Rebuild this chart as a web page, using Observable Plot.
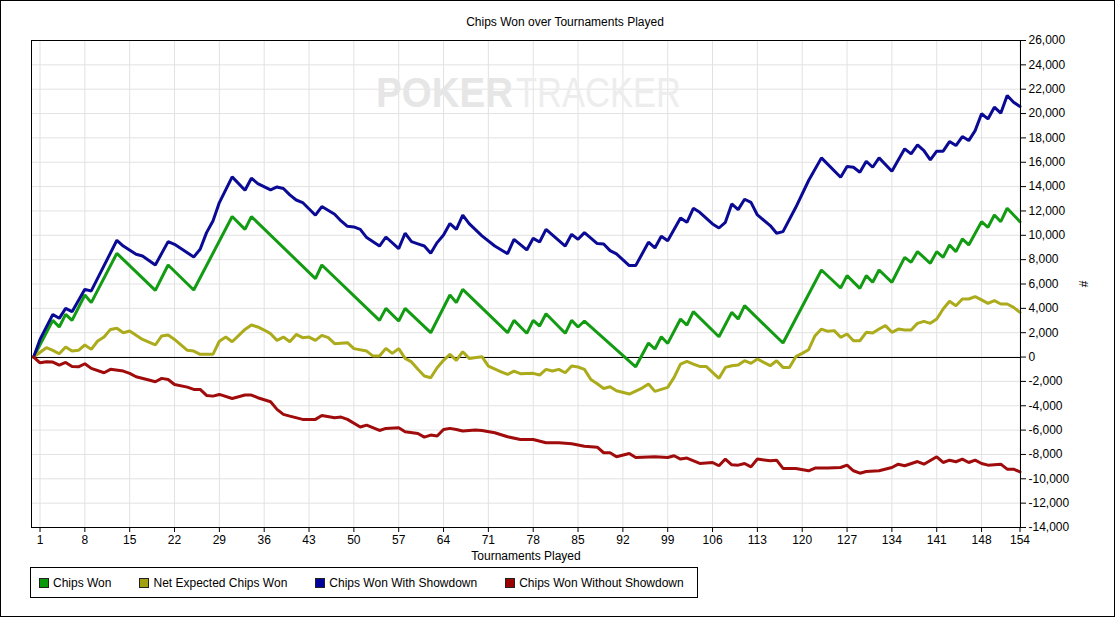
<!DOCTYPE html>
<html><head><meta charset="utf-8">
<script src="https://cdn.jsdelivr.net/npm/d3@7"></script>
<script src="https://cdn.jsdelivr.net/npm/@observablehq/plot@0.6"></script>
<style>
body{margin:0;background:#fff;}
#wrap{position:relative;width:1115px;height:617px;overflow:hidden;font-family:"Liberation Sans",Arial,sans-serif;font-size:12px;color:#000;background:#fff;}
#border{position:absolute;left:0;top:0;width:1115px;height:617px;border:1px solid #000;box-sizing:border-box;pointer-events:none;}
#title{position:absolute;top:15px;left:565px;transform:translateX(-50%);white-space:nowrap;}
#chart{position:absolute;left:0;top:0;}
#legend{position:absolute;left:30px;top:567px;width:668px;height:31px;border:1px solid #000;box-sizing:border-box;display:flex;align-items:center;padding-left:8px;}
.item{display:flex;align-items:center;margin-right:28px;white-space:nowrap;}
.sw{width:8px;height:8px;border:1px solid #222;margin-right:4px;}
</style></head>
<body><div id="wrap"><div id="chart"></div><div id="title"></div><div id="legend"></div><div id="border"></div></div>
<script>
const titleText = "Chips Won over Tournaments Played";
const xLabel = "Tournaments Played";
const yLabel = "#";
const seriesNames = ["Chips Won", "Net Expected Chips Won", "Chips Won With Showdown", "Chips Won Without Showdown"];
const seriesColors = ["#139b13", "#abab1c", "#0a0a95", "#a00b0b"];
const legendColors = ["#0a990a", "#a0a010", "#00009a", "#9a0000"];

// [tournament, chips]
const chipsWon = [[0,0],[3,3010],[4,2470],[5,3510],[6,3010],[8,5100],[9,4470],[13,8520],[19,5480],[21,7560],[25,5510],[31,11540],[33,10490],[34,11540],[44,6440],[45,7560],[54,3010],[55,4000],[57,2960],[58,4000],[62,2000],[65,5100],[66,4470],[67,5560],[74,2000],[75,3010],[77,1950],[78,3010],[79,2550],[80,3560],[83,1950],[84,3010],[85,2470],[86,2960],[94,-800],[96,1150],[97,660],[98,1670],[99,1120],[101,3120],[102,2630],[103,3730],[107,1670],[109,3670],[110,3120],[111,4220],[117,1150],[123,7150],[126,5670],[127,6690],[129,5640],[130,6690],[131,6140],[132,7150],[134,6140],[136,8190],[137,7780],[138,8660],[140,7700],[141,8660],[142,8190],[143,9210],[144,8660],[145,9700],[146,9210],[148,11120],[149,10660],[150,11670],[151,11120],[152,12220],[154,11120]];

const netExpected = [[0,0],[2,770],[3,550],[4,270],[5,820],[6,490],[7,550],[8,990],[9,630],[10,1320],[11,1640],[12,2270],[13,2360],[14,2000],[15,2140],[17,1450],[19,990],[20,1730],[21,1810],[22,1450],[24,550],[25,490],[26,220],[28,220],[29,1300],[30,1640],[31,1260],[33,2270],[34,2630],[35,2470],[36,2220],[37,1920],[38,1370],[39,1640],[40,1260],[41,1860],[42,1590],[43,1640],[44,1370],[45,1780],[46,1590],[47,1100],[49,1180],[50,690],[52,490],[53,80],[54,80],[55,710],[56,300],[57,690],[58,-110],[59,-400],[60,-1000],[61,-1560],[62,-1700],[63,-880],[64,-270],[65,220],[66,-270],[67,440],[68,-110],[70,30],[71,-740],[73,-1210],[74,-1430],[75,-1150],[76,-1370],[78,-1340],[79,-1480],[80,-1010],[81,-1150],[82,-1010],[83,-1290],[84,-740],[85,-820],[86,-1010],[87,-1840],[88,-2190],[89,-2580],[90,-2440],[91,-2770],[93,-3040],[95,-2550],[96,-2220],[97,-2820],[99,-2490],[100,-1670],[101,-580],[102,-360],[103,-580],[104,-770],[105,-770],[106,-1260],[107,-1750],[108,-850],[109,-710],[110,-660],[111,-300],[112,-520],[113,-160],[114,-440],[115,-710],[116,-300],[117,-850],[118,-850],[119,30],[120,300],[121,600],[122,1750],[123,2300],[124,2110],[125,2170],[126,1620],[127,1890],[128,1340],[129,1340],[130,2030],[131,1970],[132,2300],[133,2580],[134,2030],[135,2300],[136,2220],[137,2220],[138,2770],[139,2930],[140,2770],[141,3120],[142,3950],[143,4580],[144,4220],[145,4770],[146,4770],[147,4960],[148,4690],[149,4410],[150,4630],[151,4360],[152,4360],[153,4080],[154,3670]];

const withShowdown = [[0,0],[1,1450],[3,3500],[4,3180],[5,4000],[6,3730],[8,5560],[9,5430],[13,9590],[14,9120],[16,8440],[17,8300],[19,7560],[21,9480],[22,9260],[25,8220],[26,8850],[27,10220],[28,11180],[29,12690],[31,14800],[33,13700],[34,14690],[35,14250],[37,13730],[38,13970],[39,13840],[40,13320],[41,12900],[42,12690],[44,11650],[45,12360],[47,11730],[48,11180],[49,10740],[50,10690],[51,10490],[52,9810],[54,9120],[55,9860],[57,8900],[58,10170],[59,9480],[60,9300],[61,9120],[62,8520],[63,9400],[64,10030],[65,10960],[66,10490],[67,11650],[68,10960],[70,9950],[72,9120],[74,8490],[75,9670],[77,8800],[78,9750],[79,9450],[80,10490],[83,9120],[84,10080],[85,9670],[86,10220],[88,9320],[89,9290],[90,8740],[91,8470],[93,7510],[94,7510],[96,9430],[97,8960],[98,9920],[99,9560],[101,11430],[102,11070],[103,12220],[104,11890],[106,10930],[107,10600],[108,11070],[109,12580],[110,12110],[111,12960],[112,12710],[113,11670],[115,10800],[116,10170],[117,10300],[119,12300],[121,14500],[123,16360],[126,14770],[127,15650],[128,15590],[129,15180],[130,16080],[131,15590],[132,16360],[134,15260],[136,17100],[137,16690],[138,17430],[139,16960],[140,16190],[141,16910],[142,16910],[143,17700],[144,17370],[145,18110],[146,17780],[147,18600],[148,19980],[149,19560],[150,20520],[151,20030],[152,21480],[153,20930],[154,20580]];

const withoutShowdown = [[0,0],[1,-470],[2,-380],[3,-410],[4,-660],[5,-440],[6,-770],[7,-800],[8,-550],[9,-930],[11,-1290],[12,-1010],[14,-1150],[15,-1340],[16,-1620],[18,-1890],[19,-2030],[20,-1750],[21,-1840],[22,-2250],[24,-2470],[25,-2660],[26,-2660],[27,-3150],[28,-3210],[29,-3070],[31,-3400],[33,-3120],[34,-3120],[35,-3340],[37,-3670],[38,-4300],[39,-4710],[40,-4850],[42,-5120],[44,-5120],[45,-4800],[47,-4990],[48,-4930],[49,-5120],[51,-5750],[52,-5590],[54,-6030],[55,-5860],[57,-5810],[58,-6140],[60,-6280],[61,-6580],[62,-6410],[63,-6490],[64,-5950],[65,-5860],[66,-5950],[67,-6080],[69,-6000],[70,-6030],[72,-6220],[74,-6550],[76,-6770],[78,-6770],[80,-7040],[82,-7040],[84,-7120],[86,-7320],[88,-7400],[89,-7860],[90,-7860],[91,-8190],[93,-7920],[94,-8250],[97,-8190],[99,-8250],[100,-8110],[101,-8380],[102,-8300],[104,-8740],[106,-8660],[107,-8930],[108,-8380],[109,-8850],[110,-8880],[111,-8740],[112,-9020],[113,-8380],[115,-8520],[116,-8470],[117,-9150],[119,-9150],[121,-9340],[122,-9120],[124,-9120],[126,-9070],[127,-8880],[128,-9340],[129,-9540],[130,-9400],[132,-9340],[134,-9070],[135,-8800],[136,-8930],[138,-8580],[139,-8800],[141,-8190],[142,-8660],[143,-8470],[144,-8600],[145,-8380],[146,-8660],[147,-8470],[148,-8740],[149,-8880],[151,-8800],[152,-9210],[153,-9210],[154,-9430]];

const xTicks = [1,8,15,22,29,36,43,50,57,64,71,78,85,92,99,106,113,120,127,134,141,148,154];
const yTicks = [-14000,-12000,-10000,-8000,-6000,-4000,-2000,0,2000,4000,6000,8000,10000,12000,14000,16000,18000,20000,22000,24000,26000];
const watermarkParts = ["POKER", "TRACKER"];

const seriesData = [chipsWon, netExpected, withShowdown, withoutShowdown];
const rows = [];
seriesNames.forEach((name, i) => seriesData[i].forEach(([t, v]) => rows.push({name, t, v})));

const fmt = d3.formatLocale({decimal: ".", thousands: ",", grouping: [3], currency: ["", ""], minus: "-"}).format(",");

const chart = Plot.plot({
  width: 1115, height: 565,
  marginLeft: 31, marginRight: 95, marginTop: 40, marginBottom: 38,
  style: {fontFamily: "'Liberation Sans', Arial, sans-serif", fontSize: "12px", background: "transparent", color: "#000"},
  x: {domain: [-0.33, 154.08]},
  y: {domain: [-14000, 26000]},
  color: {domain: seriesNames, range: seriesColors},
  marks: [
    Plot.gridX(xTicks, {stroke: "#e2e2e2", strokeOpacity: 1}),
    Plot.gridY(yTicks, {stroke: "#e2e2e2", strokeOpacity: 1}),
    Plot.text([watermarkParts[0]], {frameAnchor: "top", text: d => d, textAnchor: "end", lineAnchor: "bottom", dy: 66, dx: -13, fontSize: 43, fontWeight: "bold", fill: "#e6e6e6"}),
    Plot.text([watermarkParts[1]], {frameAnchor: "top", text: d => d, textAnchor: "start", lineAnchor: "bottom", dy: 66, dx: -10, fontSize: 43, fontWeight: 300, fill: "#ededed"}),
    Plot.ruleY([0], {stroke: "#000", strokeWidth: 1, shapeRendering: "crispEdges"}),
    Plot.line(rows, {x: "t", y: "v", z: "name", stroke: "name", strokeWidth: 3, strokeLinejoin: "miter"}),
    Plot.frame({stroke: "#000", shapeRendering: "crispEdges"}),
    Plot.axisX(xTicks, {anchor: "bottom", tickSize: 5, tickPadding: 3, tickFormat: d => String(d), label: xLabel, labelAnchor: "center", labelArrow: "none", labelOffset: 32}),
    Plot.axisY(yTicks, {anchor: "right", tickSize: 5, tickPadding: 3, tickFormat: fmt, label: yLabel, labelAnchor: "center", labelArrow: "none", labelOffset: 67})
  ]
});
document.getElementById("chart").appendChild(chart);

d3.select(chart).selectAll("text").each(function() {
  if (this.textContent === watermarkParts[0]) { this.setAttribute("textLength", 137); this.setAttribute("lengthAdjust", "spacingAndGlyphs"); }
  if (this.textContent === watermarkParts[1]) { this.setAttribute("textLength", 165); this.setAttribute("lengthAdjust", "spacingAndGlyphs"); }
});

document.getElementById("title").textContent = titleText;
const legend = d3.select("#legend");
seriesNames.forEach((name, i) => {
  const item = legend.append("div").attr("class", "item");
  item.append("div").attr("class", "sw").style("background", legendColors[i]);
  item.append("span").text(name);
});
</script></body></html>
